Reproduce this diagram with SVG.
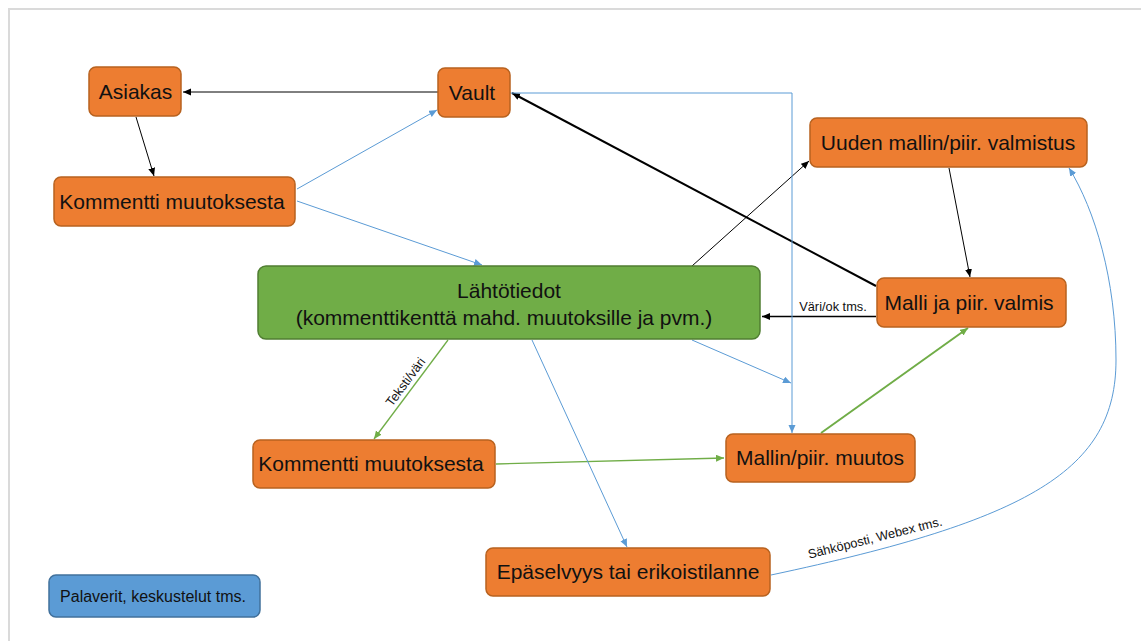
<svg xmlns="http://www.w3.org/2000/svg" width="1141" height="641" viewBox="0 0 1141 641">
<defs>
<style>
.o{fill:#ED7D31;stroke:#B8621F;stroke-width:1.5}
.g{fill:#70AD47;stroke:#507E32;stroke-width:1.5}
.b{fill:#5B9BD5;stroke:#41719C;stroke-width:1.5}
.t{font-family:"Liberation Sans",Arial,sans-serif;font-size:21px;fill:#111;text-anchor:middle}
.s{font-family:"Liberation Sans",Arial,sans-serif;font-size:12.8px;fill:#111;text-anchor:middle}
.k{stroke:#000;fill:none;stroke-width:1}
.bl{stroke:#5B9BD5;fill:none;stroke-width:1}
.gr{stroke:#70AD47;fill:none;stroke-width:1.3}
</style>
<marker id="ak" markerUnits="userSpaceOnUse" markerWidth="9" markerHeight="8" refX="8" refY="3.5" orient="auto"><path d="M0,0 L8,3.5 L0,7 z" fill="#000"/></marker>
<marker id="ab" markerUnits="userSpaceOnUse" markerWidth="9" markerHeight="8" refX="8" refY="3.5" orient="auto"><path d="M0,0 L8,3.5 L0,7 z" fill="#5B9BD5"/></marker>
<marker id="ag" markerUnits="userSpaceOnUse" markerWidth="9" markerHeight="8" refX="8" refY="3.5" orient="auto"><path d="M0,0 L8,3.5 L0,7 z" fill="#70AD47"/></marker>
</defs>
<rect width="1141" height="641" fill="#fff"/>
<path d="M9,641 V9 H1141" fill="none" stroke="#dadada" stroke-width="2"/>

<g id="connectors">
<path class="k" d="M438,92 L183,92" marker-end="url(#ak)"/>
<path class="k" d="M136,117 L154,176" marker-end="url(#ak)"/>
<path class="bl" d="M297,189 L437,110" marker-end="url(#ab)"/>
<path class="bl" d="M297,201 L482,265" marker-end="url(#ab)"/>
<path class="k" d="M876,286 L512,93" style="stroke-width:2" marker-end="url(#ak)"/>
<path class="k" d="M692,266 L809,161" marker-end="url(#ak)"/>
<path class="k" d="M949,168 L970,277" marker-end="url(#ak)"/>
<path class="k" d="M876,316.5 L762,316.5" style="stroke-width:1.6" marker-end="url(#ak)"/>
<text class="s" x="833" y="311">Väri/ok tms.</text>
<path class="bl" d="M510,93 H792 V433" marker-end="url(#ab)"/>
<path class="bl" d="M692,340 L791,383" marker-end="url(#ab)"/>
<path class="gr" d="M448,340 L374,439" marker-end="url(#ag)"/>
<text class="s" x="0" y="0" transform="translate(409,384.5) rotate(-53.5)">Teksti/väri</text>
<path class="gr" d="M496,464 L724,458" marker-end="url(#ag)"/>
<path class="gr" d="M821,433 L968,328" style="stroke-width:2" marker-end="url(#ag)"/>
<path class="bl" d="M532,340 L627,547" marker-end="url(#ab)"/>
<path class="bl" d="M771,575 C1030,520 1116,470 1116,360 C1116,280 1095,210 1069,168" marker-end="url(#ab)"/>
<text class="s" x="0" y="0" transform="translate(876,542) rotate(-14)">Sähköposti, Webex tms.</text>
</g>

<g id="asiakas"><rect class="o" x="89" y="67" width="92" height="49" rx="7"/><text class="t" x="135.5" y="99">Asiakas</text></g>
<g id="vault"><rect class="o" x="438" y="68" width="72" height="49" rx="7"/><text class="t" x="472" y="100">Vault</text></g>
<g id="kommentti1"><rect class="o" x="54" y="177" width="241" height="49" rx="7"/><text class="t" x="172" y="209">Kommentti muutoksesta</text></g>
<g id="lahtotiedot"><rect class="g" x="258" y="266" width="502" height="73" rx="8"/><text class="t" x="509" y="298">Lähtötiedot</text><text class="t" x="504" y="325">(kommenttikenttä mahd. muutoksille ja pvm.)</text></g>
<g id="uuden"><rect class="o" x="810" y="118" width="277" height="49" rx="7"/><text class="t" x="948" y="150">Uuden mallin/piir. valmistus</text></g>
<g id="valmis"><rect class="o" x="877" y="278" width="189" height="49" rx="7"/><text class="t" x="969" y="310">Malli ja piir. valmis</text></g>
<g id="muutos"><rect class="o" x="726" y="434" width="189" height="48" rx="7"/><text class="t" x="820" y="465">Mallin/piir. muutos</text></g>
<g id="kommentti2"><rect class="o" x="253" y="440" width="242" height="48" rx="7"/><text class="t" x="371" y="471">Kommentti muutoksesta</text></g>
<g id="epaselvyys"><rect class="o" x="486" y="548" width="284" height="48" rx="7"/><text class="t" x="628" y="579">Epäselvyys tai erikoistilanne</text></g>
<g id="palaverit"><rect class="b" x="49" y="575" width="211" height="42" rx="7"/><text class="t" x="153" y="601.5" style="font-size:16px">Palaverit, keskustelut tms.</text></g>
</svg>
